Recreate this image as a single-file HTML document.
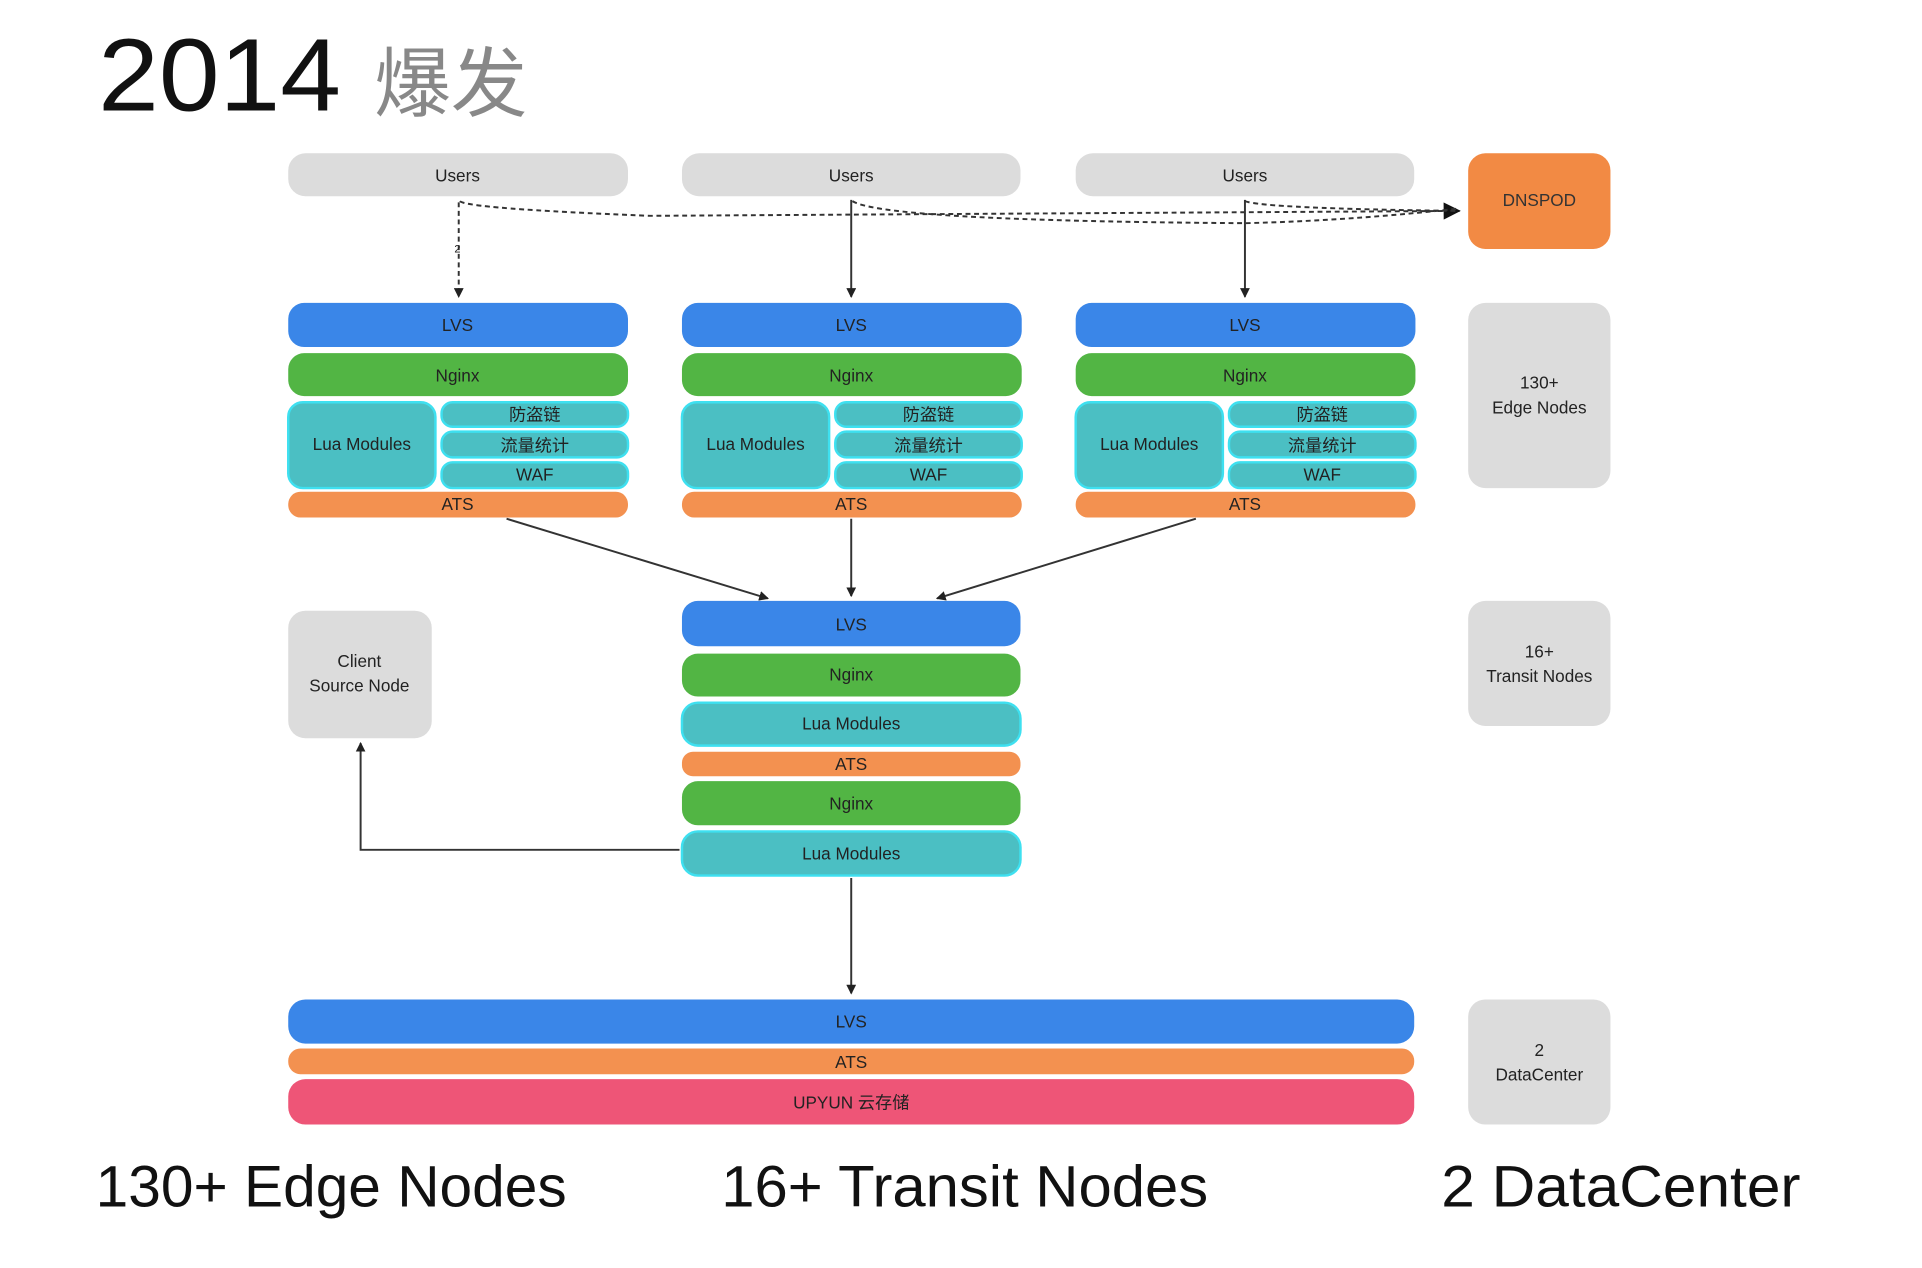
<!DOCTYPE html>
<html><head><meta charset="utf-8">
<style>
html,body{margin:0;padding:0;background:#fff;width:1922px;height:1268px;overflow:hidden}
svg{display:block}
text{font-family:"Liberation Sans","Noto Sans CJK SC",sans-serif}
</style></head><body>
<svg width="1922" height="1268" viewBox="0 0 1567 1034" preserveAspectRatio="none" xmlns="http://www.w3.org/2000/svg">
<defs>
<marker id="ah" markerWidth="8" markerHeight="8" refX="7" refY="4" orient="auto" markerUnits="userSpaceOnUse"><path d="M0,0 L8,4 L0,8 z" fill="#222"/></marker>
<marker id="ahb" markerWidth="14" markerHeight="14" refX="13" refY="7" orient="auto" markerUnits="userSpaceOnUse"><path d="M0,0 L14,7 L0,14 z" fill="#111"/></marker>
</defs>
<text x="80" y="90" font-size="84" fill="#111" textLength="198" lengthAdjust="spacingAndGlyphs" font-family="Liberation Sans, sans-serif">2014</text>
<text x="305" y="90" font-size="62" fill="#888" textLength="125" lengthAdjust="spacingAndGlyphs" font-family="Noto Sans CJK SC, sans-serif">爆发</text>

<g font-size="14" text-anchor="middle" fill="#222">
<rect x="235" y="125" width="277" height="35" rx="14" fill="#dcdcdc"/><text x="373" y="148">Users</text>
<rect x="556" y="125" width="276" height="35" rx="14" fill="#dcdcdc"/><text x="694" y="148">Users</text>
<rect x="877" y="125" width="276" height="35" rx="14" fill="#dcdcdc"/><text x="1015" y="148">Users</text>
<rect x="1197" y="125" width="116" height="78" rx="14" fill="#f28a44"/><text x="1255" y="168" fill="#333">DNSPOD</text>

<g fill="none" stroke="#333" stroke-width="1.6" stroke-dasharray="4,3">
<path d="M375,164 Q380,170 530,176 L1190,172" marker-end="url(#ahb)"/>
<path d="M695,164 Q720,180 1015,182 Q1100,180 1190,170"/>
<path d="M1015,164 Q1030,170 1190,172"/>
<path d="M374,165 L374,242" marker-end="url(#ah)"/>
</g>
<text x="373" y="206" font-size="9">2</text>
<g stroke="#333" stroke-width="1.6" fill="none">
<path d="M694,163 L694,242" marker-end="url(#ah)"/>
<path d="M1015,163 L1015,242" marker-end="url(#ah)"/>
</g>

<g id="edge">
<rect x="235" y="247" width="277" height="36" rx="13" fill="#3a86e8"/><text x="373" y="270">LVS</text>
<rect x="235" y="288" width="277" height="35" rx="13" fill="#52b544"/><text x="373" y="311">Nginx</text>
<rect x="235" y="328" width="120" height="70" rx="12" fill="#4bbfc3" stroke="#3ee0f0" stroke-width="2"/><text x="295" y="367">Lua Modules</text>
<rect x="360" y="328" width="152" height="20" rx="9" fill="#4bbfc3" stroke="#3ee0f0" stroke-width="2"/><text x="436" y="343">防盗链</text>
<rect x="360" y="352" width="152" height="21" rx="9" fill="#4bbfc3" stroke="#3ee0f0" stroke-width="2"/><text x="436" y="368">流量统计</text>
<rect x="360" y="377" width="152" height="21" rx="9" fill="#4bbfc3" stroke="#3ee0f0" stroke-width="2"/><text x="436" y="392">WAF</text>
<rect x="235" y="401" width="277" height="21" rx="10" fill="#f39150"/><text x="373" y="416">ATS</text>
</g>
<use href="#edge" x="321"/>
<use href="#edge" x="642"/>
<rect x="1197" y="247" width="116" height="151" rx="14" fill="#dcdcdc"/>
<text x="1255" y="317">130+</text><text x="1255" y="337">Edge Nodes</text>

<g stroke="#333" stroke-width="1.6" fill="none">
<path d="M413,423 L626,488" marker-end="url(#ah)"/>
<path d="M694,423 L694,486" marker-end="url(#ah)"/>
<path d="M975,423 L764,488" marker-end="url(#ah)"/>
</g>

<rect x="556" y="490" width="276" height="37" rx="13" fill="#3a86e8"/><text x="694" y="514">LVS</text>
<rect x="556" y="533" width="276" height="35" rx="13" fill="#52b544"/><text x="694" y="555">Nginx</text>
<rect x="556" y="573" width="276" height="35" rx="13" fill="#4bbfc3" stroke="#3ee0f0" stroke-width="2"/><text x="694" y="595">Lua Modules</text>
<rect x="556" y="613" width="276" height="20" rx="9" fill="#f39150"/><text x="694" y="628">ATS</text>
<rect x="556" y="637" width="276" height="36" rx="13" fill="#52b544"/><text x="694" y="660">Nginx</text>
<rect x="556" y="678" width="276" height="36" rx="13" fill="#4bbfc3" stroke="#3ee0f0" stroke-width="2"/><text x="694" y="701">Lua Modules</text>

<rect x="235" y="498" width="117" height="104" rx="14" fill="#dcdcdc"/>
<text x="293" y="544">Client</text><text x="293" y="564">Source Node</text>
<rect x="1197" y="490" width="116" height="102" rx="14" fill="#dcdcdc"/>
<text x="1255" y="536">16+</text><text x="1255" y="556">Transit Nodes</text>

<g stroke="#333" stroke-width="1.6" fill="none">
<path d="M554,693 L294,693 L294,606" marker-end="url(#ah)"/>
<path d="M694,716 L694,810" marker-end="url(#ah)"/>
</g>

<rect x="235" y="815" width="918" height="36" rx="14" fill="#3a86e8"/><text x="694" y="838">LVS</text>
<rect x="235" y="855" width="918" height="21" rx="10" fill="#f39150"/><text x="694" y="871">ATS</text>
<rect x="235" y="880" width="918" height="37" rx="14" fill="#ee5577"/><text x="694" y="904">UPYUN 云存储</text>
<rect x="1197" y="815" width="116" height="102" rx="14" fill="#dcdcdc"/>
<text x="1255" y="861">2</text><text x="1255" y="881">DataCenter</text>
</g>

<g font-size="48" fill="#111">
<text x="78" y="984" textLength="384" lengthAdjust="spacingAndGlyphs">130+ Edge Nodes</text>
<text x="588" y="984" textLength="397" lengthAdjust="spacingAndGlyphs">16+ Transit Nodes</text>
<text x="1175" y="984" textLength="293" lengthAdjust="spacingAndGlyphs">2 DataCenter</text>
</g>
</svg>
</body></html>
